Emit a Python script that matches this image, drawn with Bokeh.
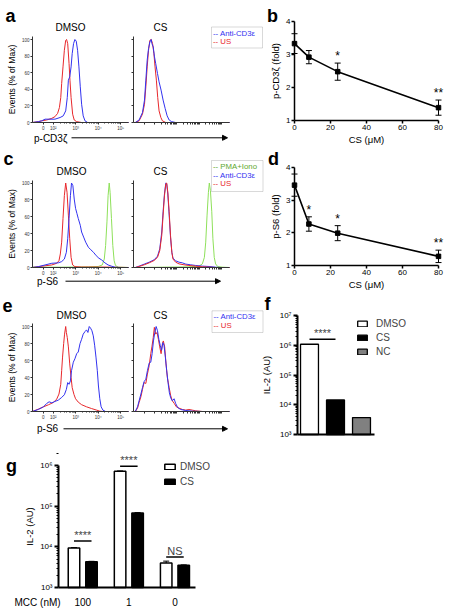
import numpy as np
from bokeh.plotting import figure
from bokeh.models import (Range1d, FixedTicker, LabelSet, Label, Arrow, NormalHead, BoxAnnotation,
                          ColumnDataSource, Legend, LegendItem)
from bokeh.layouts import row, column
from bokeh.embed import file_html
from bokeh.resources import INLINE
from bokeh.core.properties import value

FONT = "Liberation Sans"
BLUE = "#3232f0"
RED = "#e8282c"
GREEN = "#8ee05a"
GREEN_TXT = "#5ea82e"

# ---------------- histogram axes ----------------
hist_tick_pos = [1.55, 2, 3, 4, 5]
hist_tick_lab = ["0", "10²", "10³", "10⁴", "10⁵"]
hist_y_ticks = [0, 20, 40, 60, 80, 100]

# ---------------- panel a : p-CD3zeta histograms ----------------
a_dmso_us_x = [1.07, 1.33, 1.48, 1.70, 1.93, 2.07, 2.19, 2.27, 2.33, 2.37, 2.43, 2.49, 2.55, 2.59, 2.64, 2.70, 2.74, 2.79, 2.86, 2.93, 3.04, 3.26, 5.35]
a_dmso_us_y = [0, 1, 2, 3, 5, 7, 11, 18, 30, 47, 67, 87, 99, 100, 95, 71, 51, 30, 10, 3, 1, 0, 0]
a_dmso_cd3_x = [1.07, 1.33, 1.48, 1.63, 1.85, 2.07, 2.30, 2.44, 2.55, 2.62, 2.67, 2.73, 2.79, 2.84, 2.90, 2.96, 3.02, 3.08, 3.14, 3.20, 3.26, 3.33, 3.41, 3.53, 5.35]
a_dmso_cd3_y = [0, 1, 2, 4, 4, 4, 6, 8, 14, 30, 51, 55, 67, 83, 95, 100, 98, 87, 67, 43, 22, 8, 2, 0, 0]
a_cs_us_x = [1.07, 1.15, 1.32, 1.47, 1.56, 1.62, 1.68, 1.74, 1.80, 1.86, 1.92, 1.98, 2.03, 2.09, 2.15, 2.21, 2.29, 2.36, 2.51, 5.35]
a_cs_us_y = [0, 0, 2, 10, 22, 43, 67, 87, 99, 100, 95, 83, 67, 51, 30, 14, 6, 2, 0, 0]
a_cs_cd3_x = [1.07, 1.15, 1.32, 1.47, 1.56, 1.62, 1.68, 1.74, 1.80, 1.86, 1.89, 1.95, 2.00, 2.06, 2.14, 2.21, 2.30, 2.39, 2.48, 2.57, 2.66, 2.77, 2.95, 5.35]
a_cs_cd3_y = [0, 0, 3, 12, 27, 51, 75, 89, 97, 100, 95, 91, 80, 71, 59, 49, 39, 27, 17, 8, 3, 1, 0, 0]

# ---------------- panel c : p-S6 histograms ----------------
c_dmso_us_x = [1.07, 1.33, 1.63, 1.93, 2.15, 2.25, 2.31, 2.37, 2.43, 2.49, 2.55, 2.61, 2.67, 2.73, 2.79, 2.86, 2.96, 3.26, 4.30, 5.35]
c_dmso_us_y = [0, 1, 2, 3, 5, 8, 16, 30, 58, 85, 100, 89, 62, 34, 12, 3, 1, 0.5, 0.5, 0]
c_dmso_cd3_x = [1.07, 1.33, 1.63, 1.93, 2.22, 2.37, 2.49, 2.58, 2.64, 2.70, 2.76, 2.81, 2.87, 2.93, 2.99, 3.05, 3.11, 3.20, 3.26, 3.35, 3.44, 3.56, 3.67, 3.79, 3.91, 4.03, 4.15, 4.30, 4.44, 4.59, 4.74, 4.96, 5.35]
c_dmso_cd3_y = [0, 1, 3, 5, 5.5, 7, 10, 18, 34, 58, 85, 100, 97, 81, 70, 64, 58, 50, 42, 36, 30, 24, 21, 18, 14, 11, 9, 5.5, 3, 1.6, 0.4, 0, 0]
c_dmso_pma_x = [1.07, 2.37, 3.56, 4.00, 4.18, 4.27, 4.33, 4.39, 4.44, 4.49, 4.53, 4.59, 4.65, 4.71, 4.77, 4.89, 5.35]
c_dmso_pma_y = [0.4, 0.4, 0.8, 1.2, 3, 10, 26, 54, 85, 100, 89, 58, 26, 8, 2.4, 0.4, 0]
c_cs_us_x = [1.07, 1.15, 1.32, 1.55, 1.77, 1.99, 2.14, 2.24, 2.33, 2.39, 2.45, 2.51, 2.55, 2.60, 2.66, 2.72, 2.78, 2.83, 2.95, 3.10, 3.32, 3.54, 3.84, 4.14, 4.44, 4.73, 5.35]
c_cs_us_y = [0, 0, 1.2, 3.2, 5.5, 8.3, 12, 20, 38, 62, 85, 99, 100, 89, 66, 38, 18, 10, 6.3, 4.3, 3.2, 2.4, 1.6, 0.8, 0.4, 0, 0]
c_cs_cd3_x = [1.07, 1.15, 1.32, 1.55, 1.77, 1.99, 2.14, 2.24, 2.33, 2.39, 2.45, 2.51, 2.55, 2.60, 2.66, 2.72, 2.78, 2.83, 2.95, 3.10, 3.25, 3.40, 3.62, 3.84, 4.14, 4.44, 4.73, 4.95, 5.35]
c_cs_cd3_y = [0, 0, 1.6, 4, 6.3, 9.1, 13.4, 22, 42, 66, 87, 100, 99, 87, 62, 36, 18, 11, 7.9, 6.3, 5.5, 4, 3.2, 2.4, 1.6, 1.2, 0.4, 0, 0]
c_cs_pma_x = [1.07, 1.15, 2.36, 3.54, 3.99, 4.14, 4.23, 4.29, 4.35, 4.41, 4.45, 4.50, 4.56, 4.61, 4.67, 4.73, 4.82, 5.03, 5.35]
c_cs_pma_y = [0, 0, 0.4, 0.8, 1.6, 4.3, 12, 30, 62, 89, 100, 91, 66, 34, 12, 4.3, 1.2, 0.4, 0]

# ---------------- panel e : p-S6 histograms ----------------
e_dmso_us_x = [1.07, 1.33, 1.56, 1.78, 2.00, 2.15, 2.25, 2.33, 2.37, 2.41, 2.46, 2.50, 2.55, 2.58, 2.62, 2.67, 2.73, 2.79, 2.84, 2.92, 2.99, 3.11, 3.26, 3.48, 3.70, 3.93, 4.07, 4.22, 5.35]
e_dmso_us_y = [0, 2.8, 5.5, 7.9, 10.6, 14.6, 20.5, 32, 48, 64, 80, 91, 100, 93, 87, 76, 56, 40, 28, 20, 15, 11, 8, 5.5, 3.5, 1.6, 0.4, 0, 0]
e_dmso_cd3_x = [1.07, 1.33, 1.56, 1.70, 1.81, 1.93, 2.07, 2.22, 2.37, 2.49, 2.58, 2.64, 2.70, 2.76, 2.81, 2.89, 2.96, 3.04, 3.11, 3.19, 3.26, 3.33, 3.41, 3.48, 3.54, 3.60, 3.66, 3.72, 3.78, 3.84, 3.90, 3.96, 4.01, 4.07, 4.13, 4.21, 4.33, 5.35]
e_dmso_cd3_y = [0, 2.4, 5.5, 9.4, 11.4, 10.2, 11.8, 13.4, 16.5, 19.7, 26, 34, 32, 36, 48, 58, 62, 68, 70, 80, 85, 91, 94, 96, 93, 100, 98, 95, 89, 78, 64, 48, 30, 15, 5.5, 1.6, 0, 0]
e_cs_us_x = [1.07, 1.15, 1.25, 1.32, 1.40, 1.47, 1.54, 1.62, 1.69, 1.77, 1.84, 1.89, 1.95, 2.00, 2.06, 2.12, 2.18, 2.24, 2.30, 2.36, 2.40, 2.46, 2.52, 2.58, 2.66, 2.73, 2.80, 2.89, 2.98, 3.10, 3.25, 3.40, 3.54, 3.69, 3.84, 4.14, 5.35]
e_cs_us_y = [0, 0, 3.9, 10.6, 17.3, 26, 34, 33, 44, 54, 68, 76, 87, 99, 91, 93, 85, 76, 68, 80, 83, 76, 56, 40, 28, 18.5, 12.6, 9.4, 5.5, 3.9, 2.4, 1.6, 2.4, 1.6, 0.8, 0, 0]
e_cs_cd3_x = [1.07, 1.15, 1.25, 1.32, 1.40, 1.47, 1.54, 1.62, 1.69, 1.77, 1.84, 1.90, 1.96, 2.02, 2.08, 2.14, 2.20, 2.26, 2.32, 2.38, 2.43, 2.49, 2.55, 2.61, 2.67, 2.73, 2.80, 2.88, 2.95, 3.04, 3.17, 3.40, 3.69, 4.14, 5.35]
e_cs_cd3_y = [0, 0, 5.5, 12.6, 20.5, 28, 35, 38, 48, 57, 58, 68, 83, 93, 100, 95, 85, 78, 72, 81, 78, 64, 48, 34, 22, 16, 12.6, 15, 9.4, 4.7, 2.4, 1.2, 0.4, 0, 0]

# ---------------- panels b, d : dose response ----------------
b_cs = [0, 8, 24, 80]
b_mean = [3.33, 2.92, 2.48, 1.39]
b_err = [0.30, 0.20, 0.26, 0.23]
b_sig = ["", "", "*", "**"]
d_cs = [0, 8, 24, 80]
d_mean = [3.46, 2.27, 1.99, 1.28]
d_err = [0.34, 0.22, 0.23, 0.19]
d_sig = ["", "*", "*", "**"]

# ---------------- panel f ----------------
f_groups = ["DMSO", "CS", "NC"]
f_il2 = [1.08e6, 1.45e4, 3.7e3]
f_colors = ["white", "black", "#808080"]
f_sig = "****"
f_sig_y = 1.6e6

# ---------------- panel g ----------------
g_mcc = ["100", "1", "0"]
g_dmso = [9.4e3, 7.2e5, 4.0e3]
g_cs = [4.3e3, 6.8e4, 3.5e3]
g_dmso_err = [2e2, 1.5e4, 4.5e2]
g_cs_err = [1e2, 1.5e3, 1e2]
g_sig = ["****", "****", "NS"]
g_sig_y = [1.4e4, 9.6e5, 5.6e3]

hist_minor = [float(d + np.log10(k)) for d in (2, 3, 4) for k in range(2, 10)]
log_minor = [float(k * 10 ** d) for d in (3, 4, 5, 6) for k in range(2, 10)]
sup = {3: "10³", 4: "10⁴", 5: "10⁵", 6: "10⁶", 7: "10⁷"}

# Every figure uses its whole area as the plot frame; axes are pinned inside it
# with fixed_location and limited with bounds, so no frame alignment can move them.


def base_fig(w, h, xr, yr, **kw):
    p = figure(width=w, height=h, output_backend="svg", toolbar_location=None, x_range=xr, y_range=yr,
               min_border=0, min_border_left=0, min_border_right=0, min_border_top=0,
               min_border_bottom=0, **kw)
    p.grid.visible = False
    p.outline_line_color = None
    p.background_fill_color = "white"
    p.border_fill_color = "white"
    return p


def style_axis(ax, size, lw=1.0, tick_out=3, color="black"):
    ax.axis_line_color = color
    ax.axis_line_width = lw
    ax.major_tick_line_color = color
    ax.major_tick_line_width = lw
    ax.minor_tick_line_color = color
    ax.major_tick_out = tick_out
    ax.major_tick_in = 0
    ax.minor_tick_in = 0
    ax.minor_tick_out = 0
    ax.major_label_text_font = FONT
    ax.major_label_text_font_size = f"{size}px"
    ax.major_label_text_color = color
    ax.axis_label_text_font = FONT
    ax.axis_label_text_font_style = "normal"
    ax.axis_label_text_color = "black"


H_X0, H_X1 = 1.07, 5.35      # histogram display range (biexponential decades)
H_PX = 22.43                 # pixels per decade


def hist_fig(w, h, left_px, axis_px, zero_px, top_px, pct_px, curves, labels_on):
    xr = Range1d(H_X0 - (axis_px - left_px) / H_PX, H_X0 + (left_px + w - axis_px) / H_PX)
    yr = Range1d(-(top_px + h - zero_px) / pct_px, (zero_px - top_px) / pct_px)
    p = base_fig(w, h, xr, yr)
    for xs, ys, c in curves:
        p.line(xs, ys, line_color=c, line_width=1)
    xa, ya = p.xaxis[0], p.yaxis[0]
    xa.fixed_location = 0
    ya.fixed_location = H_X0
    xa.bounds = (H_X0, H_X1)
    ya.bounds = (0, 103.5)
    for ax in (xa, ya):
        style_axis(ax, 4.5, lw=1, tick_out=2, color="#333333")
        ax.major_label_standoff = 1
    if labels_on:
        xa.ticker = FixedTicker(ticks=hist_tick_pos, minor_ticks=hist_minor)
        ya.ticker = FixedTicker(ticks=hist_y_ticks)
        xa.minor_tick_out = 1
        xa.major_label_overrides = dict(zip(hist_tick_pos, hist_tick_lab))
        ya.axis_label = "Events (% of Max)"
        ya.axis_label_text_font_size = "8.5px"
        ya.axis_label_standoff = 2
    else:
        xa.ticker = FixedTicker(ticks=[], minor_ticks=hist_tick_pos + hist_minor)
        ya.ticker = FixedTicker(ticks=[], minor_ticks=hist_y_ticks)
        xa.minor_tick_out = 2
        ya.minor_tick_out = 2
    return p


def line_fig(h, top_px, y4_px, y1_px, xs, mean, err, sig, ylabel):
    # figure spans image x 266..452, x=0 at 294, 1.8 px per µM
    sx = 1.8
    xr = Range1d(-(294 - 266) / sx, (452 - 294) / sx)
    sy = (y1_px - y4_px) / 3.0
    yr = Range1d(1 - (top_px + h - y1_px) / sy, 4 + (y4_px - top_px) / sy)
    p = base_fig(186, h, xr, yr)
    lo = [m - e for m, e in zip(mean, err)]
    hi = [m + e for m, e in zip(mean, err)]
    src = ColumnDataSource(dict(x=xs, y=mean, lo=lo, hi=hi, sig=sig))
    p.segment(x0="x", y0="lo", x1="x", y1="hi", source=src, line_color="black", line_width=1)
    p.scatter(x="x", y="lo", source=src, marker="dash", size=6, line_color="black", line_width=1)
    p.scatter(x="x", y="hi", source=src, marker="dash", size=6, line_color="black", line_width=1)
    p.line(x="x", y="y", source=src, line_color="black", line_width=1.6)
    p.scatter(x="x", y="y", source=src, marker="square", size=4.5, color="black")
    p.add_layout(LabelSet(x="x", y="hi", text="sig", source=src, text_align="center",
                          text_baseline="bottom", y_offset=0, text_font=value(FONT),
                          text_font_size="12px", text_color="black"))
    xa, ya = p.xaxis[0], p.yaxis[0]
    xa.fixed_location = 1
    ya.fixed_location = 0
    xa.bounds = (0, 80)
    ya.bounds = (1, 4)
    xa.ticker = FixedTicker(ticks=[0, 20, 40, 60, 80])
    ya.ticker = FixedTicker(ticks=[1, 2, 3, 4])
    for ax in (xa, ya):
        style_axis(ax, 8, lw=1.5, tick_out=3)
        ax.major_label_standoff = 1
        ax.axis_label_text_font_size = "9.5px"
    xa.axis_label = "CS (μM)"
    xa.axis_label_standoff = 1
    ya.axis_label = ylabel
    ya.axis_label_standoff = 2
    return p


# ======================= row 1 (image y 0..150) =======================
a_dmso = hist_fig(130, 150, 0, 32, 122, 0, 0.83,
                  [(a_dmso_us_x, a_dmso_us_y, RED), (a_dmso_cd3_x, a_dmso_cd3_y, BLUE)], True)
a_cs = hist_fig(136, 150, 130, 133, 122, 0, 0.83,
                [(a_cs_us_x, a_cs_us_y, RED), (a_cs_cd3_x, a_cs_cd3_y, BLUE)], False)
fig_b = line_fig(150, 0, 21, 120, b_cs, b_mean, b_err, b_sig, "p-CD3ζ (fold)")

# ======================= row 2 (image y 150..300) =======================
c_dmso = hist_fig(130, 150, 0, 32, 267, 150, 0.845,
                  [(c_dmso_pma_x, c_dmso_pma_y, GREEN), (c_dmso_us_x, c_dmso_us_y, RED),
                   (c_dmso_cd3_x, c_dmso_cd3_y, BLUE)], True)
c_cs = hist_fig(136, 150, 130, 133, 267, 150, 0.845,
                [(c_cs_pma_x, c_cs_pma_y, GREEN), (c_cs_cd3_x, c_cs_cd3_y, BLUE),
                 (c_cs_us_x, c_cs_us_y, RED)], False)
fig_d = line_fig(150, 150, 167, 265, d_cs, d_mean, d_err, d_sig, "p-S6 (fold)")

# ======================= row 3 (image y 300..450) =======================
e_dmso = hist_fig(130, 150, 0, 32, 411, 300, 0.85,
                  [(e_dmso_us_x, e_dmso_us_y, RED), (e_dmso_cd3_x, e_dmso_cd3_y, BLUE)], True)
e_cs = hist_fig(130, 150, 130, 133, 411, 300, 0.85,
                [(e_cs_us_x, e_cs_us_y, RED), (e_cs_cd3_x, e_cs_cd3_y, BLUE)], False)

# panel f : figure spans image x 260..452, y 300..450; bars 26 px apart, first at x=309
F_LEFT = 260
f_x = list(range(len(f_groups)))
f_dec = (434 - 315) / 4.0
fig_f = base_fig(452 - F_LEFT, 150, Range1d((F_LEFT - 309) / 26, (452 - 309) / 26),
                 Range1d(10 ** (3 - (450 - 434) / f_dec), 10 ** (7 + (315 - 300) / f_dec)),
                 y_axis_type="log")
f_src = ColumnDataSource(dict(x=f_x, g=f_groups, v=f_il2, c=f_colors))
rf = fig_f.vbar(x="x", top="v", bottom=1e3, width=0.69, source=f_src, fill_color="c",
                line_color="black", line_width=1.3)
fig_f.segment(x0=[f_x[0]], x1=[f_x[1]], y0=[f_sig_y], y1=[f_sig_y], line_color="black", line_width=1.5)
fig_f.add_layout(Label(x=(f_x[0] + f_x[1]) / 2, y=f_sig_y, text=f_sig, text_font=FONT,
                       text_font_size="11px", text_align="center", text_baseline="bottom"))
lf = Legend(items=[LegendItem(label=g, renderers=[rf], index=i) for i, g in enumerate(f_groups)],
            location=(356 - F_LEFT, 93), border_line_color=None, background_fill_alpha=0, padding=0,
            margin=0, spacing=2, glyph_width=12, glyph_height=7, label_height=12, label_standoff=8,
            label_text_font=FONT, label_text_font_size="10px")
fig_f.add_layout(lf)
fxa, fya = fig_f.xaxis[0], fig_f.yaxis[0]
f_axis_x = (297 - 309) / 26
fxa.fixed_location = 1e3
fya.fixed_location = f_axis_x
style_axis(fxa, 8, lw=2, tick_out=0)
fxa.ticker = FixedTicker(ticks=[])
fxa.bounds = (f_axis_x, 2.5)
style_axis(fya, 8, lw=2, tick_out=4)
fya.ticker = FixedTicker(ticks=[1e3, 1e4, 1e5, 1e6, 1e7], minor_ticks=log_minor)
fya.major_label_overrides = {10 ** k: s for k, s in sup.items()}
fya.bounds = (1e3, 1e7)
fya.minor_tick_out = 2
fya.major_label_standoff = 2
fya.axis_label = "IL-2 (AU)"
fya.axis_label_text_font_size = "9.5px"
fya.axis_label_standoff = 4

# ======================= row 4 : panel g (image y 450..614) =======================
off = 0.19
g_x = list(range(len(g_mcc)))
g_px, g_c0 = 46.1, 82.25          # px per group, centre of first group
g_dec = (587 - 465) / 3.0
fig_g = base_fig(452, 164, Range1d(-g_c0 / g_px, (452 - g_c0) / g_px),
                 Range1d(10 ** (3 - (614 - 587) / g_dec), 10 ** (6 + (465 - 450) / g_dec)),
                 y_axis_type="log")
g_src = ColumnDataSource(dict(
    xd=[x - off for x in g_x], xc=[x + off for x in g_x],
    dmso=g_dmso, cs=g_cs,
    dmso_hi=[v + e for v, e in zip(g_dmso, g_dmso_err)],
    cs_hi=[v + e for v, e in zip(g_cs, g_cs_err)],
    sy=g_sig_y))
r1 = fig_g.vbar(x="xd", top="dmso", bottom=1e3, width=0.25, source=g_src,
                fill_color="white", line_color="black", line_width=1.5)
r2 = fig_g.vbar(x="xc", top="cs", bottom=1e3, width=0.25, source=g_src,
                fill_color="black", line_color="black", line_width=1.5)
for xc, t, h in (("xd", "dmso", "dmso_hi"), ("xc", "cs", "cs_hi")):
    fig_g.segment(x0=xc, x1=xc, y0=t, y1=h, source=g_src, line_color="black", line_width=1)
    fig_g.scatter(x=xc, y=h, source=g_src, marker="dash", size=6, line_color="black", line_width=1)
fig_g.segment(x0="xd", x1="xc", y0="sy", y1="sy", source=g_src, line_color="black", line_width=1.5)
for xg, s, yv in zip(g_x, g_sig, g_sig_y):
    fig_g.add_layout(Label(x=xg, y=yv, text=s, text_font=FONT, text_font_size="11px",
                           text_align="center", text_baseline="bottom"))
lg = Legend(items=[LegendItem(label="DMSO", renderers=[r1]), LegendItem(label="CS", renderers=[r2])],
            location=(163, 127), border_line_color=None, background_fill_alpha=0, padding=0, margin=0,
            spacing=3, glyph_width=13, glyph_height=7, label_height=12, label_standoff=4,
            label_text_font=FONT, label_text_font_size="10px")
fig_g.add_layout(lg)
gxa, gya = fig_g.xaxis[0], fig_g.yaxis[0]
g_axis_x = (58 - g_c0) / g_px
gxa.fixed_location = 1e3
gya.fixed_location = g_axis_x
style_axis(gxa, 10, lw=2, tick_out=0)
gxa.ticker = FixedTicker(ticks=g_x)
gxa.major_label_overrides = dict(zip(g_x, g_mcc))
gxa.major_label_standoff = 10
gxa.bounds = (g_axis_x, (195 - g_c0) / g_px)
style_axis(gya, 8, lw=2, tick_out=4)
gya.ticker = FixedTicker(ticks=[1e3, 1e4, 1e5, 1e6], minor_ticks=log_minor)
gya.major_label_overrides = {10 ** k: s for k, s in sup.items() if k <= 6}
gya.bounds = (1e3, 1e6)
gya.minor_tick_out = 2
gya.major_label_standoff = 2
gya.axis_label = "IL-2 (AU)"
gya.axis_label_text_font_size = "9.5px"
gya.axis_label_standoff = 2

# ======================= overlay: panel letters, titles, legend boxes, arrows =======================
ov = figure(width=452, height=614, x_range=Range1d(0, 452), y_range=Range1d(614, 0),
            output_backend="svg", toolbar_location=None, min_border=0,
            x_axis_location=None, y_axis_location=None, margin=(-614, 0, 0, 0))
ov.grid.visible = False
ov.outline_line_color = None
ov.background_fill_color = None
ov.border_fill_color = None

ov.text(x=[10, 272, 8, 273, 7, 267, 11], y=[15, 15, 158, 158, 304.5, 303, 465],
        text=["a", "b", "c", "d", "e", "f", "g"], text_font=value(FONT), text_font_size="18px",
        text_font_style="bold", text_align="center", text_baseline="middle", text_color="black")
ov.text(x=[70, 160, 71, 160, 71, 160], y=[27, 27, 171, 171, 315, 315],
        text=["DMSO", "CS", "DMSO", "CS", "DMSO", "CS"], text_font=value(FONT), text_font_size="10px",
        text_align="center", text_baseline="middle", text_color="black")
ov.text(x=[33.5, 36.5, 36.5, 14], y=[138, 280.5, 428.3, 601.5],
        text=["p-CD3ζ", "p-S6", "p-S6", "MCC (nM)"], text_font=value(FONT), text_font_size="10px",
        text_align="left", text_baseline="middle", text_color="black")
for x0, x1, yy in ((71, 227, 137.3), (65, 220, 280.7), (63, 227, 428.3)):
    ov.add_layout(Arrow(end=NormalHead(size=5, fill_color="black", line_color="black", line_width=1),
                        x_start=x0, y_start=yy, x_end=x1, y_end=yy, line_width=1, line_color="black"))
legend_boxes = [
    ((211, 262, 26.5, 47.5), [("-- Anti-CD3ε", BLUE), ("-- US", RED)], [32.5, 41]),
    ((211, 262.5, 160, 191), [("-- PMA+Iono", GREEN_TXT), ("-- Anti-CD3ε", BLUE), ("-- US", RED)],
     [166, 174.5, 183]),
    ((211.5, 262.5, 310.3, 332), [("-- Anti-CD3ε", BLUE), ("-- US", RED)], [316.3, 325.3]),
]
for (l, r, t, b), lines, ys in legend_boxes:
    ov.add_layout(BoxAnnotation(left=l, right=r, top=t, bottom=b, fill_color="white", fill_alpha=1,
                                line_color="#808080", line_width=1, level="underlay"))
    ov.text(x=[l + 1.5] * len(lines), y=ys, text=[s for s, _ in lines], text_color=[c for _, c in lines],
            text_font=value(FONT), text_font_size="7.8px", text_align="left", text_baseline="middle")

row1 = row(a_dmso, a_cs, fig_b)
row2 = row(c_dmso, c_cs, fig_d)
row3 = row(e_dmso, e_cs, fig_f)
layout = column(row1, row2, row3, fig_g, ov)

open("out.html", "w").write(file_html(layout, INLINE))
